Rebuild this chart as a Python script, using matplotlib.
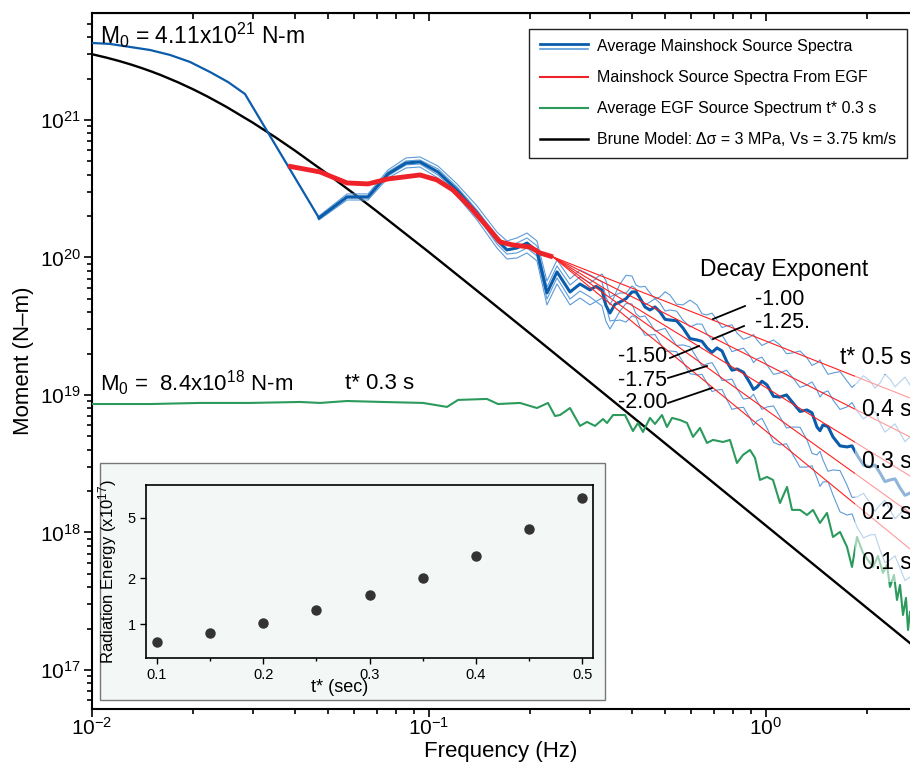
import numpy as np
import matplotlib
matplotlib.use("Agg")
import matplotlib.pyplot as plt
from matplotlib.lines import Line2D
from matplotlib.patches import Rectangle
from matplotlib.legend_handler import HandlerBase
from matplotlib.ticker import FixedLocator, NullLocator, FixedFormatter, LogLocator

plt.rcParams['font.family'] = ['Liberation Sans', 'DejaVu Sans']
plt.rcParams['mathtext.fontset'] = 'custom'
plt.rcParams['mathtext.rm'] = 'Liberation Sans'
plt.rcParams['mathtext.it'] = 'Liberation Sans:italic'
plt.rcParams['mathtext.bf'] = 'Liberation Sans:bold'

# Brune model
BRUNE_F = [0.01, 0.011, 0.012, 0.013, 0.014, 0.015, 0.016, 0.018, 0.02, 0.022, 0.025, 0.03,
           0.035, 0.04, 0.05, 0.06, 0.07, 0.1, 0.15, 0.2, 0.3, 0.5, 0.7, 1.0, 1.5, 2.0, 2.7]
BRUNE_M = [3.008e21, 2.847e21, 2.690e21, 2.538e21, 2.392e21, 2.253e21, 2.121e21, 1.879e21,
           1.667e21, 1.482e21, 1.249e21, 9.56e20, 7.49e20, 5.99e20, 4.045e20, 2.896e20,
           2.168e20, 1.092e20, 4.923e19, 2.785e19, 1.242e19, 4.48e18, 2.288e18, 1.121e18,
           4.984e17, 2.804e17, 1.539e17]

# average mainshock spectrum, low frequency part (log10 moment)
LOW_F = [0.01, 0.01131, 0.01297, 0.01486, 0.01704, 0.01953, 0.02239, 0.02533, 0.02844]
LOW_LOGM = [21.560, 21.553, 21.531, 21.509, 21.473, 21.422, 21.349, 21.276, 21.189]

# frequencies shared by the mainshock spectra (Hz)
FREQ = [0.04716, 0.05711, 0.06592, 0.07553, 0.08548, 0.09404, 0.1063, 0.1211, 0.1388, 0.1591,
        0.1703, 0.1824, 0.1953, 0.2091, 0.2239, 0.2398, 0.2621, 0.2806,
        0.3004, 0.3130, 0.3261, 0.3351, 0.3444, 0.3563, 0.3688, 0.3842, 0.4002, 0.4113,
        0.4227, 0.4375, 0.4525, 0.4684, 0.4847, 0.5017, 0.5189, 0.5426, 0.5671, 0.5950,
        0.6238, 0.6458, 0.6682, 0.6916, 0.7155, 0.7404, 0.7660, 0.7927, 0.8202, 0.8574,
        0.8964, 0.9182, 0.9404, 0.9729, 1.0070, 1.0527, 1.1004, 1.1503, 1.2025, 1.2615,
        1.3234, 1.3693, 1.4167, 1.4462, 1.4760, 1.5276, 1.5805, 1.6583, 1.7392, 1.7999,
        1.8622, 1.9469, 2.0355, 2.1058, 2.1794, 2.2547, 2.3334, 2.4139, 2.4985, 2.5856,
        2.6751]

# log10 moment, t* 0.3 s average (thick) and the t* 0.5, 0.4, 0.2, 0.1 s spectra (thin)
MEAN_LOGM = [20.287, 20.440, 20.440, 20.607, 20.687, 20.695, 20.622, 20.491, 20.324, 20.127,
             20.055, 20.069, 20.105, 20.047, 19.742, 19.895, 19.749, 19.807,
             19.764, 19.790, 19.764, 19.650, 19.596, 19.660, 19.676, 19.700, 19.749, 19.750,
             19.705, 19.640, 19.618, 19.640, 19.604, 19.550, 19.545, 19.540, 19.487, 19.410,
             19.400, 19.390, 19.342, 19.310, 19.342, 19.320, 19.240, 19.180, 19.189, 19.165,
             19.087, 19.040, 19.058, 19.100, 19.073, 18.990, 18.985, 19.000, 18.942, 18.880,
             18.891, 18.870, 18.767, 18.740, 18.782, 18.770, 18.695, 18.630, 18.622, 18.630,
             18.564, 18.490, 18.476, 18.490, 18.433, 18.370, 18.382, 18.390, 18.324, 18.270,
             18.287]
TSTAR_05 = [20.302, 20.462, 20.462, 20.636, 20.724, 20.731, 20.665, 20.535, 20.375, 20.185,
            20.120, 20.142, 20.178, 20.120, 19.829, 19.982, 19.844, 19.909,
            19.873, 19.850, 19.880, 19.830, 19.713, 19.730, 19.807, 19.870, 19.865, 19.800,
            19.785, 19.790, 19.742, 19.700, 19.713, 19.750, 19.727, 19.660, 19.655, 19.690,
            19.655, 19.590, 19.582, 19.595, 19.545, 19.490, 19.502, 19.510, 19.451, 19.405,
            19.422, 19.440, 19.400, 19.360, 19.378, 19.400, 19.364, 19.300, 19.306, 19.320,
            19.269, 19.215, 19.233, 19.255, 19.211, 19.150, 19.160, 19.170, 19.102, 19.055,
            19.087, 19.140, 19.102, 19.050, 19.087, 19.150, 19.116, 19.060, 19.095, 19.130,
            19.073]
TSTAR_04 = [20.295, 20.447, 20.447, 20.622, 20.702, 20.709, 20.644, 20.513, 20.345, 20.156,
            20.084, 20.105, 20.142, 20.084, 19.785, 19.938, 19.800, 19.858,
            19.815, 19.845, 19.822, 19.710, 19.655, 19.725, 19.742, 19.740, 19.793, 19.770,
            19.691, 19.655, 19.676, 19.700, 19.669, 19.610, 19.618, 19.610, 19.545, 19.495,
            19.516, 19.515, 19.444, 19.400, 19.422, 19.435, 19.378, 19.315, 19.327, 19.340,
            19.284, 19.235, 19.262, 19.275, 19.218, 19.150, 19.160, 19.180, 19.124, 19.055,
            19.073, 19.095, 19.036, 18.985, 19.015, 19.030, 18.964, 18.895, 18.913, 18.945,
            18.884, 18.825, 18.862, 18.880, 18.796, 18.730, 18.760, 18.790, 18.724, 18.660,
            18.695]
TSTAR_02 = [20.280, 20.433, 20.433, 20.593, 20.673, 20.680, 20.600, 20.469, 20.302, 20.098,
            20.025, 20.033, 20.069, 20.011, 19.698, 19.851, 19.698, 19.756,
            19.713, 19.680, 19.705, 19.650, 19.538, 19.545, 19.611, 19.665, 19.662, 19.590,
            19.567, 19.575, 19.524, 19.465, 19.473, 19.485, 19.429, 19.360, 19.364, 19.350,
            19.269, 19.210, 19.226, 19.235, 19.175, 19.105, 19.109, 19.115, 19.044, 18.970,
            18.978, 19.005, 18.956, 18.895, 18.913, 18.920, 18.840, 18.760, 18.767, 18.765,
            18.673, 18.575, 18.564, 18.590, 18.527, 18.445, 18.455, 18.450, 18.345, 18.255,
            18.258, 18.285, 18.214, 18.155, 18.200, 18.235, 18.164, 18.100, 18.135, 18.175,
            18.113]
TSTAR_01 = [20.273, 20.418, 20.418, 20.578, 20.651, 20.658, 20.578, 20.447, 20.273, 20.069,
            19.989, 19.996, 20.033, 19.975, 19.655, 19.807, 19.655, 19.705,
            19.655, 19.680, 19.647, 19.535, 19.480, 19.540, 19.545, 19.530, 19.575, 19.565,
            19.495, 19.435, 19.436, 19.440, 19.378, 19.315, 19.320, 19.315, 19.240, 19.155,
            19.145, 19.150, 19.087, 19.025, 19.036, 19.040, 18.964, 18.895, 18.905, 18.910,
            18.833, 18.780, 18.811, 18.830, 18.760, 18.655, 18.636, 18.645, 18.564, 18.475,
            18.476, 18.485, 18.396, 18.335, 18.367, 18.370, 18.273, 18.150, 18.127, 18.135,
            18.040, 17.960, 17.982, 17.985, 17.873, 17.780, 17.800, 17.830, 17.742, 17.650,
            17.676]

# mainshock source spectrum from EGF
EGF_MS_F = [0.03817, 0.04749, 0.05711, 0.06592, 0.07553, 0.09404, 0.1056, 0.1178, 0.1323,
            0.1517, 0.1624, 0.1775, 0.1994, 0.2135, 0.2333]
EGF_MS_LOGM = [20.665, 20.622, 20.542, 20.535, 20.571, 20.600, 20.564, 20.491, 20.367,
               20.200, 20.113, 20.091, 20.076, 20.033, 20.004]

# decay exponent lines, from the end of the EGF spectrum to the right edge
DECAY_LABELS = ["-1.00", "-1.25.", "-1.50", "-1.75", "-2.00"]
DECAY_END_F = 2.6751
DECAY_END_LOGM = [18.978, 18.695, 18.411, 18.142, 17.880]

# average EGF source spectrum, t* 0.3 s
GREEN_F = [0.01, 0.01486, 0.02091, 0.02943, 0.04142, 0.04749, 0.05711, 0.07302, 0.09598, 0.1131,
           0.1220, 0.1486, 0.1602, 0.1862, 0.2091, 0.2255, 0.2365, 0.2447, 0.2621, 0.2806,
           0.2943, 0.3109, 0.3284, 0.3375, 0.3516, 0.3816, 0.4029, 0.4170, 0.4315, 0.4525,
           0.4684, 0.4913, 0.5084, 0.5262, 0.5557, 0.5829, 0.6073, 0.6371, 0.6682, 0.6963,
           0.7454, 0.7819, 0.8202, 0.8549, 0.8964, 0.9277, 0.9598, 1.0070, 1.0491, 1.1004,
           1.1544, 1.1946, 1.2615, 1.3234, 1.3788, 1.4462, 1.5171, 1.5805, 1.6583, 1.7392,
           1.7999, 1.8622, 1.9402, 2.0076, 2.0773, 2.1494, 2.2242, 2.2860, 2.3334, 2.3981,
           2.4477, 2.4985, 2.5500, 2.6029, 2.6391, 2.6751]
GREEN_LOGM = [18.934, 18.934, 18.942, 18.942, 18.949, 18.942, 18.956, 18.949, 18.942, 18.913,
              18.964, 18.971, 18.934, 18.942, 18.905, 18.942, 18.847, 18.854, 18.905, 18.775,
              18.804, 18.775, 18.825, 18.796, 18.854, 18.854, 18.738, 18.796, 18.731, 18.833,
              18.789, 18.854, 18.767, 18.833, 18.818, 18.796, 18.695, 18.760, 18.651, 18.673,
              18.658, 18.673, 18.505, 18.564, 18.600, 18.542, 18.382, 18.404, 18.382, 18.214,
              18.331, 18.164, 18.164, 18.127, 18.164, 18.069, 18.142, 17.967, 18.004, 17.895,
              17.749, 17.967, 17.851, 17.800, 17.749, 17.829, 17.706, 17.764, 17.604, 17.691,
              17.509, 17.618, 17.400, 17.524, 17.291, 17.422]

T_LABELS = ["t* 0.5 s", "0.4 s", "0.3 s", "0.2 s", "0.1 s"]

# inset: radiation energy vs t*
TSTAR = [0.1, 0.15, 0.2, 0.25, 0.3, 0.35, 0.4, 0.45, 0.5]
ERAD = [0.76, 0.877, 1.02, 1.24, 1.55, 2.01, 2.80, 4.21, 6.73]

DARK_BLUE = '#0b5cab'
LIGHT_BLUE = '#5d9bd8'
RED = '#ee2229'
GREEN = '#2b9a5c'


class DoubleLine(HandlerBase):
    def create_artists(self, legend, orig, xd, yd, w, h, fs, trans):
        y = yd + h / 2
        a = Line2D([xd, xd + w], [y + 1.2, y + 1.2], color=DARK_BLUE, lw=2, transform=trans)
        b = Line2D([xd, xd + w], [y - 2.2, y - 2.2], color=LIGHT_BLUE, lw=1.2, transform=trans)
        return [a, b]


fig = plt.figure(figsize=(9.1, 7.68), dpi=100)
ax = fig.add_axes([92 / 910, 59 / 768, 818 / 910, 696 / 768])

ax.plot(BRUNE_F, BRUNE_M, color='black', lw=1.7, zorder=2)
ax.plot(GREEN_F, 10 ** np.array(GREEN_LOGM), color=GREEN, lw=1.5, zorder=3)

for vals in [TSTAR_05, TSTAR_04, TSTAR_02, TSTAR_01]:
    ax.plot(FREQ, 10 ** np.array(vals), color=LIGHT_BLUE, lw=0.8, zorder=4)

ax.plot(LOW_F + FREQ[:1], 10 ** np.array(LOW_LOGM + MEAN_LOGM[:1]), color=DARK_BLUE, lw=1.6, zorder=5)
ax.plot(FREQ, 10 ** np.array(MEAN_LOGM), color=DARK_BLUE, lw=2.2, zorder=5)

start_f, start_m = EGF_MS_F[-1], 10 ** EGF_MS_LOGM[-1]
for end in DECAY_END_LOGM:
    ax.plot([start_f, DECAY_END_F], [start_m, 10 ** end], color='#ff1f1f', lw=0.8, zorder=6)

ax.plot(EGF_MS_F, 10 ** np.array(EGF_MS_LOGM), color=RED, lw=3.5, solid_capstyle='butt', zorder=7)

ax.set_xscale('log')
ax.set_yscale('log')
ax.set_xlim(0.01, 2.6751)
ax.set_ylim(10 ** 16.716, 10 ** 21.778)

# faded band behind the t* labels
ax.add_patch(Rectangle((0.9328, 0.1825), 0.0672, 0.2974, transform=ax.transAxes,
                       facecolor='white', alpha=0.55, edgecolor='none', zorder=8))

ax.spines['right'].set_visible(False)
for s in ['left', 'bottom', 'top']:
    ax.spines[s].set_linewidth(1.5)
ax.tick_params(which='both', direction='out', labelsize=15, width=1.2)
ax.tick_params(which='major', length=6)
ax.tick_params(which='minor', length=3.5)
ax.tick_params(axis='x', pad=0)
ax.tick_params(axis='y', pad=2)
ax.yaxis.set_minor_locator(LogLocator(base=10, subs=np.arange(2, 10), numticks=20))
ax.xaxis.set_minor_locator(LogLocator(base=10, subs=np.arange(2, 10), numticks=20))
top = ax.secondary_xaxis('top')
top.tick_params(which='both', direction='in', labeltop=False, width=1.2)
top.tick_params(which='major', length=6)
top.tick_params(which='minor', length=4)
top.xaxis.set_minor_locator(LogLocator(base=10, subs=np.arange(2, 10), numticks=20))

ax.set_xlabel('Frequency (Hz)', fontsize=16)
ax.xaxis.set_label_coords(0.5, -0.046)
ax.set_ylabel('Moment (N\u2013m)', fontsize=16, labelpad=4)

ax.text(0.0098, 0.968, 'M$_0$ = 4.11x10$^{21}$ N-m', transform=ax.transAxes,
        fontsize=16.5, va='center', ha='left', zorder=10)
ax.text(0.0098, 0.468, 'M$_0$ =  8.4x10$^{18}$ N-m', transform=ax.transAxes,
        fontsize=16, va='center', ha='left', zorder=10)
ax.text(0.309, 0.468, 't* 0.3 s', transform=ax.transAxes,
        fontsize=16, va='center', ha='left', zorder=10)
ax.text(0.743, 0.631, 'Decay Exponent', transform=ax.transAxes,
        fontsize=16.5, va='center', ha='left', zorder=10)

decay_text = [(0.8105, 0.589), (0.8105, 0.556), (0.643, 0.506), (0.643, 0.4727), (0.643, 0.4397)]
leaders = [((0.7983, 0.5790), (0.7592, 0.5603)), ((0.7971, 0.5503), (0.7592, 0.5316)),
           ((0.7066, 0.5043), (0.7421, 0.5216)), ((0.7042, 0.4756), (0.7518, 0.4928)),
           ((0.7042, 0.4397), (0.7579, 0.4612))]
for lab, (tx, ty), (p0, p1) in zip(DECAY_LABELS, decay_text, leaders):
    ax.text(tx, ty, lab, transform=ax.transAxes, fontsize=15.5, va='center', ha='left', zorder=10)
    ax.plot([p0[0], p1[0]], [p0[1], p1[1]], transform=ax.transAxes, color='black', lw=1.3, zorder=10)

tlab_pos = [(0.9144, 0.5057), (0.9413, 0.4296), (0.9413, 0.3549), (0.9413, 0.2830), (0.9413, 0.2098)]
for lab, (tx, ty) in zip(T_LABELS, tlab_pos):
    ax.text(tx, ty, lab, transform=ax.transAxes, fontsize=16.5, va='center', ha='left', zorder=10)

handles = [Line2D([], [], color=DARK_BLUE),
           Line2D([], [], color=RED, lw=1.5),
           Line2D([], [], color=GREEN, lw=1.5),
           Line2D([], [], color='black', lw=1.8)]
labels = ['Average Mainshock Source Spectra', 'Mainshock Source Spectra From EGF',
          'Average EGF Source Spectrum t* 0.3 s',
          'Brune Model: \u0394\u03c3 = 3 MPa, Vs = 3.75 km/s']
leg = ax.legend(handles, labels, loc='upper right', bbox_to_anchor=(0.996, 0.977),
                borderaxespad=0, fontsize=11.5, handlelength=3.0, handletextpad=0.6,
                labelspacing=1.0, borderpad=0.65, fancybox=False, framealpha=1,
                edgecolor='#222222', handler_map={handles[0]: DoubleLine()})
leg.get_frame().set_linewidth(1.0)
leg.set_zorder(11)

# inset panel
fig.patches.append(Rectangle((100 / 910, 68 / 768), 505 / 910, 237 / 768, transform=fig.transFigure,
                             facecolor='#f3f8f7', edgecolor='#777777', lw=1.0, zorder=20))
ins = fig.add_axes([146 / 910, 110 / 768, 447 / 910, 173 / 768], zorder=21)
ins.set_facecolor('#f3f8f7')
ins.plot(TSTAR, ERAD, 'o', color='#333333', markersize=6.5)
ins.set_yscale('log')
ins.set_xlim(0.09, 0.51)
ins.set_ylim(0.6, 8.2)
ins.yaxis.set_major_locator(FixedLocator([1, 2, 5]))
ins.yaxis.set_major_formatter(FixedFormatter(['1', '2', '5']))
ins.yaxis.set_minor_locator(NullLocator())
ins.set_xticks([0.1, 0.2, 0.3, 0.4, 0.5])
ins.set_xticklabels(['0.1', '0.2', '0.3', '0.4', '0.5'])
ins.set_xticks([0.15, 0.25, 0.35, 0.45], minor=True)
ins.tick_params(which='both', direction='out', labelsize=10.5, width=1.0)
ins.tick_params(which='major', length=4)
ins.tick_params(which='minor', length=2.5)
for s in ins.spines.values():
    s.set_linewidth(1.2)
ins.set_ylabel('Radiation Energy (x10$^{17}$)', fontsize=12, labelpad=6)
fig.text(340 / 910, 1 - 688 / 768, 't* (sec)', fontsize=13, ha='center', va='center', zorder=22)

fig.savefig('out.png', dpi=100)
